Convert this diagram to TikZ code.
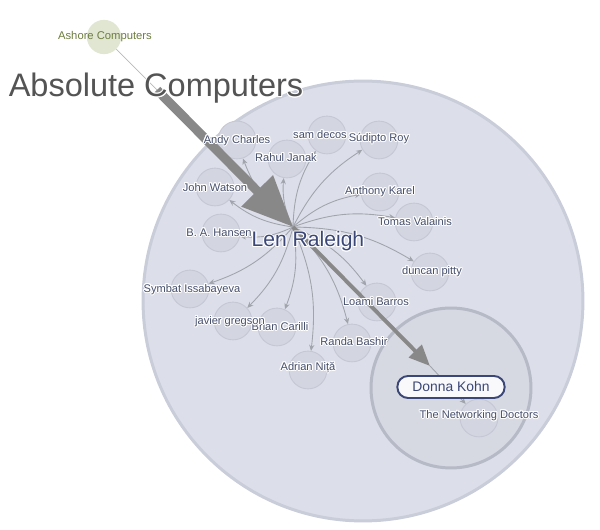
\documentclass[tikz,border=0pt]{standalone}
\usepackage{fontspec}
\setmainfont{Liberation Sans}
\usepackage{xcolor}
\usepackage{contour}
\usetikzlibrary{arrows.meta}
\contourlength{0.6pt}
\contournumber{12}
\newcommand{\halo}[1]{\contour{white}{#1}}
\definecolor{groupfill}{HTML}{DCDEE9}
\definecolor{groupline}{HTML}{C9CCD9}
\definecolor{subfill}{HTML}{D6D8E2}
\definecolor{subline}{HTML}{B6B9C6}
\definecolor{personfill}{HTML}{D3D5E0}
\definecolor{personline}{HTML}{C5C8D4}
\definecolor{labelblue}{HTML}{454E6C}
\definecolor{namenavy}{HTML}{3B4777}
\definecolor{edgegray}{HTML}{A2A4AD}
\definecolor{arrowgray}{HTML}{888888}
\definecolor{ashorefill}{HTML}{E1E6D3}
\definecolor{ashoretext}{HTML}{6C7C3E}

\begin{document}
\begin{tikzpicture}
    [x=0.02cm, y=-0.02cm,
    person/.style={circle, draw=personline, fill=personfill, line width=0.5pt,
        minimum size=21.5pt, inner sep=0pt},
    who/.style={font=\fontsize{6.3}{7}\selectfont, text=labelblue, inner sep=0pt},
    link/.style={draw=edgegray, line width=0.5pt,
        -{Stealth[length=3.5pt,width=3pt]}, bend left=15}]
    \useasboundingbox (0,0) rectangle (600,530);
    % groups
    \node[circle, draw=groupline, fill=groupfill, line width=1.7pt,
        minimum size=8.8cm, inner sep=0pt] (group) at (363,301) {};
    \node[circle, draw=subline, fill=subfill, line width=1.7pt,
        minimum size=3.2cm, inner sep=0pt] (donnagroup) at (451,388) {};
    % company points
    \node[circle, fill=ashorefill, minimum size=19.5pt, inner sep=0pt] (ashore) at (104,37) {};
    \coordinate (abs) at (157,90);
    \coordinate (len) at (293,227);
    \coordinate (donna) at (430,366);
    \draw[draw=black!28, line width=0.4pt] (ashore) -- (abs);
    % people
    \node[person] (andy) at (237,140) {};
    \node[person] (rahul) at (287,159) {};
    \node[person] (sam) at (327,135) {};
    \node[person] (sudipto) at (379,140) {};
    \node[person] (john) at (215,187) {};
    \node[person] (anthony) at (380,192) {};
    \node[person] (tomas) at (414,222) {};
    \node[person] (hansen) at (221,233) {};
    \node[person] (duncan) at (430,272) {};
    \node[person] (symbat) at (190,289) {};
    \node[person] (loami) at (377,302) {};
    \node[person] (javier) at (233,321) {};
    \node[person] (brian) at (277,327) {};
    \node[person] (randa) at (352,343) {};
    \node[person] (adrian) at (308,370) {};
    \node[person] (netdoc) at (479,418) {};
    % edges
    \draw[link] (len) to (andy);
    \draw[link] (len) to (rahul);
    \draw[link] (len) to (sam);
    \draw[link] (len) to (sudipto);
    \draw[link] (len) to (john);
    \draw[link] (len) to (anthony);
    \draw[link] (len) to (tomas);
    \draw[link] (len) to (hansen);
    \draw[link] (len) to (duncan);
    \draw[link] (len) to (symbat);
    \draw[link] (len) to (loami);
    \draw[link] (len) to (javier);
    \draw[link] (len) to (brian);
    \draw[link] (len) to (randa);
    \draw[link] (len) to (adrian);
    \draw[link, bend left=0] (donna) to (netdoc);
    % big arrows
    \draw[arrowgray, line width=2.2pt, -{Triangle[length=12pt,width=10pt]}] (len) -- (donna);
    \draw[arrowgray, line width=5.2pt, -{Triangle[length=29pt,width=24pt]}] (abs) -- (len);
    % labels
    \node[font=\fontsize{6.4}{7}\selectfont, text=ashoretext] (ashorename) at (105,37) {Ashore Computers};
    \node[font=\fontsize{18.5}{20}\selectfont, text=black!67] (absname) at (156,89) {\halo{Absolute Computers}};
    \node[who] (andyname) at (237,141) {\halo{Andy Charles}};
    \node[who] (rahulname) at (286,158) {\halo{Rahul Janak}};
    \node[who] (samname) at (320,135) {\halo{sam decos}};
    \node[who] (sudiptoname) at (379,139) {\halo{Súdipto Roy}};
    \node[who] (johnname) at (215,188) {\halo{John Watson}};
    \node[who] (anthonyname) at (380,192) {\halo{Anthony Karel}};
    \node[who] (tomasname) at (415,222) {\halo{Tomas Valainis}};
    \node[who] (hansenname) at (219,233) {\halo{B. A. Hansen}};
    \node[who] (duncanname) at (432,272) {\halo{duncan pitty}};
    \node[who] (symbatname) at (192,290) {\halo{Symbat Issabayeva}};
    \node[who] (loaminame) at (376,302) {\halo{Loami Barros}};
    \node[who] (brianname) at (280,327) {\halo{Brian Carilli}};
    \node[who] (javiername) at (230,322) {\halo{javier gregson}};
    \node[who] (randaname) at (354,342) {\halo{Randa Bashir}};
    \node[who] (adrianname) at (308,368) {\halo{Adrian Niță}};
    \node[who] (netdocname) at (479,416) {\halo{The Networking Doctors}};
    \node[font=\fontsize{12}{14}\selectfont, text=namenavy] (lenname) at (308,242) {\halo{Len Raleigh}};
    \node[draw=namenavy, fill=white!85!subfill, line width=1.1pt, rounded corners=6pt,
        minimum width=61pt, minimum height=12.5pt, inner sep=0pt,
        font=\fontsize{7.9}{9}\selectfont, text=namenavy] (donnaname) at (451,387) {Donna Kohn};
\end{tikzpicture}
\end{document}
